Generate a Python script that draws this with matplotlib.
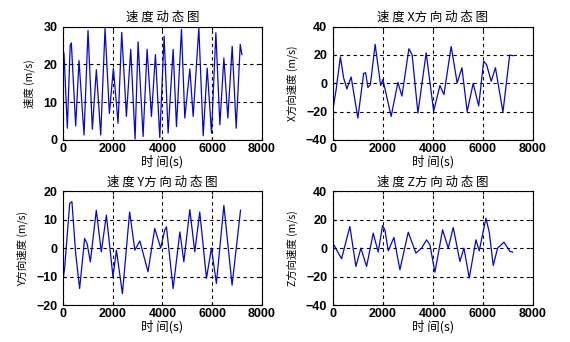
import matplotlib
matplotlib.use('Agg')
import matplotlib.pyplot as plt

plt.rcParams['font.family'] = ['Liberation Sans', 'Noto Sans CJK SC', 'DejaVu Sans']

t_v = [0, 40, 175, 290, 336, 510, 644, 846, 1007, 1181, 1342, 1517, 1691, 1866,
       2027, 2215, 2362, 2550, 2725, 2899, 3020, 3221, 3383, 3557, 3718, 3893,
       4067, 4228, 4430, 4564, 4765, 4899, 5101, 5235, 5463, 5638, 5799, 5973,
       6148, 6309, 6470, 6631, 6805, 6966, 7128, 7195]
v = [17, 23, 3.1, 25, 25.7, 3.7, 21, 1.3, 29, 2.8, 18.6, 1.3, 29.5, 7,
     19, 4.4, 28.5, 6.2, 24, 0.2, 26, 0.9, 24, 6.2, 22.6, 0.6,
     27.5, 1.8, 24, 3.5, 29.3, 5.8, 18.8, 6.2, 29.7, 1.1, 19, 1.8,
     28.4, 4, 21.7, 5.8, 24.8, 3.1, 25.3, 22.6]

# X component
t_x = [0, 130, 300, 430, 560, 730, 1000, 1230, 1310, 1400, 1500, 1690, 1910,
       2000, 2330, 2600, 2760, 3040, 3170, 3400, 3730, 4030, 4280, 4440, 4730,
       4970, 5160, 5370, 5610, 5830, 6030, 6150, 6330, 6500, 6800, 7070, 7200]
vx = [-18.7, -4.5, 18.7, 3.8, -4, 4.5, -24.6, 7, 7.5, -3, -1, 27.5, -1.6,
      2.6, -23.4, 0.7, -9, 24.4, 20, -21, 21.5, -19.7, -1.6, -8, 26,
      0.2, 11, -20, 0, -16, 15.6, 13, 1.4, 11, -20.4, 20, 19.5]

# Y component
t_y = [0, 67, 270, 360, 510, 670, 870, 970, 1100, 1340, 1540, 1745, 2010,
       2150, 2390, 2680, 2890, 3090, 3420, 3690, 3930, 4090, 4160, 4430, 4700,
       4860, 5100, 5300, 5500, 5770, 5970, 6170, 6470, 6800, 7140]
vy = [-11.2, -7, 15.7, 16.3, -1.9, -14.2, 3.4, 1.6, -4.8, 13.3, -1.3, 11.6, -10,
      -0.7, -16, 12.7, -0.7, 2.5, -8.3, 6.9, 0, 6.3, 7.5, -14.2, 5.7,
      -4.8, 13.5, -1.3, 12.7, -10.6, 0, -12.4, 15, -13, 13.3]

# Z component
t_z = [0, 347, 680, 920, 1120, 1347, 1613, 1813, 1987, 2080, 2213, 2440, 2680,
       3013, 3320, 3547, 3747, 3880, 4080, 4387, 4613, 4813, 5080, 5240, 5453,
       5720, 5853, 6120, 6253, 6413, 6587, 6840, 7080, 7187]
vz = [3.5, -7.5, 15.2, -12.9, 0, -12.9, 10.5, -2.8, 15.9, 12.8, -1.9, 7.5, -15.2,
      11.2, -3.5, 0, 5.8, 2.3, -16.9, 12.9, 0, 14.5, -9.4, 0, -21,
      5.8, -1.9, 21, 11.2, -12.2, 0, 4.2, -2.3, -2.8]

titles = ['速 度 动 态 图', '速 度 X方 向 动 态 图', '速 度 Y方 向 动 态 图', '速 度 Z方 向 动 态 图']
ylabels = ['速度 (m/s)', 'X方向速度 (m/s)', 'Y方向速度 (m/s)', 'Z方向速度 (m/s)']
ylims = [(0, 30), (-40, 40), (-20, 20), (-40, 40)]
yticks = [[0, 10, 20, 30], [-40, -20, 0, 20, 40], [-20, -10, 0, 10, 20],
          [-40, -20, 0, 20, 40]]
series = [(t_v, v), (t_x, vx), (t_y, vy), (t_z, vz)]

fig = plt.figure(figsize=(5.7, 3.42), dpi=100)
rects = [[0.1105, 0.591, 0.349, 0.331], [0.584, 0.591, 0.351, 0.331],
         [0.1105, 0.108, 0.349, 0.333], [0.584, 0.108, 0.351, 0.333]]
cjk = ['Noto Sans CJK SC', 'DejaVu Sans']

for i in range(4):
    ax = fig.add_axes(rects[i])
    tt, vv = series[i]
    ax.plot(tt, vv, color='#0808c8', lw=0.9)
    ax.set_xlim(0, 8000)
    ax.set_ylim(*ylims[i])
    ax.set_xticks([0, 2000, 4000, 6000, 8000])
    ax.set_yticks(yticks[i])
    ax.grid(True, color='black', linestyle=(0, (3, 3)), linewidth=0.8)
    ax.tick_params(direction='in', length=2, top=True, right=True, labelsize=9)
    ax.tick_params(axis='x', pad=2)
    ax.tick_params(axis='y', pad=4)
    for lab in ax.get_xticklabels() + ax.get_yticklabels():
        lab.set_fontweight('bold')
    for s in ax.spines.values():
        s.set_linewidth(0.8)
    ax.set_title(titles[i], fontsize=9, pad=4, family=cjk)
    ax.set_xlabel('时 间(s)', fontsize=9, labelpad=0, family=cjk)
    ax.set_ylabel(ylabels[i], fontsize=7.5, labelpad=6, family=cjk)

fig.savefig('out.png', dpi=100)
